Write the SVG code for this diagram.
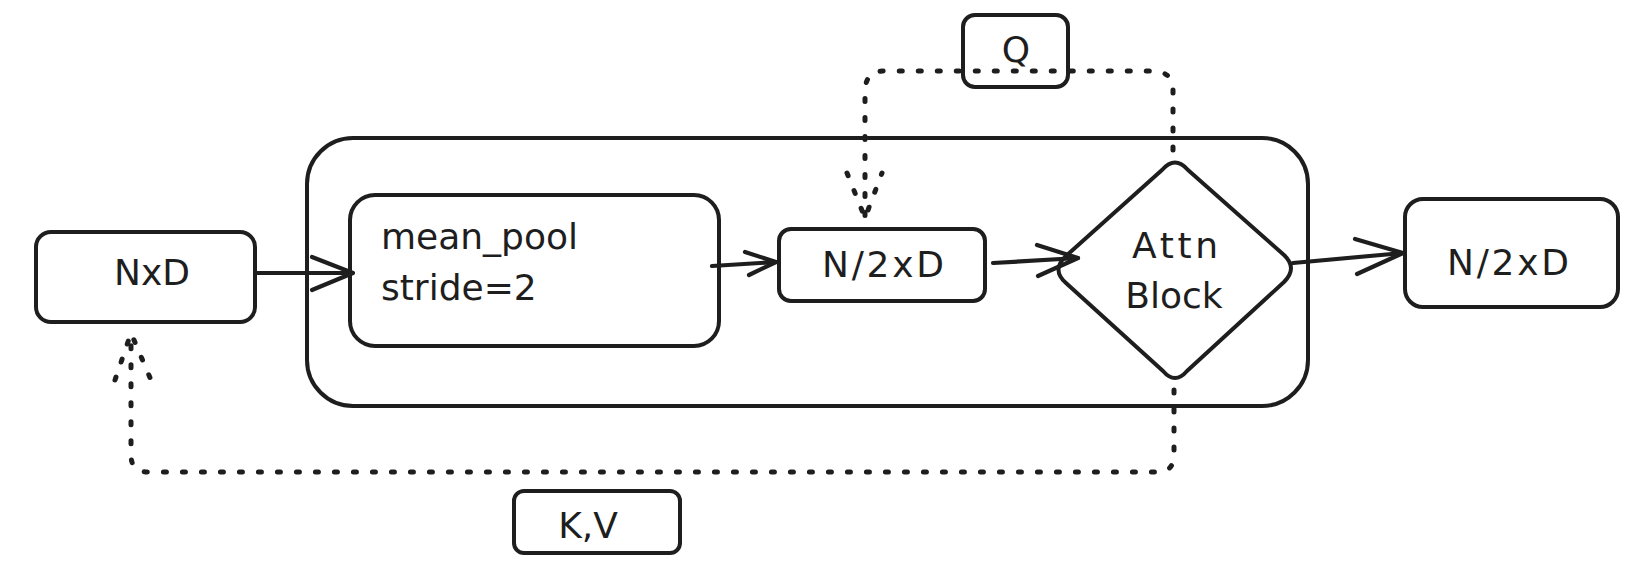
<svg xmlns="http://www.w3.org/2000/svg" width="1642" height="580" viewBox="0 0 1642 580">
  <style>
    .shape { fill: none; stroke: #1e1e1e; stroke-width: 4; stroke-linejoin: round; stroke-linecap: round; }
    .edge { fill: none; stroke: #1e1e1e; stroke-width: 4.2; stroke-linecap: round; stroke-linejoin: round; }
    .dots { fill: none; stroke: #1e1e1e; stroke-width: 5; stroke-linecap: round; stroke-dasharray: 3 16; }
    .label { font-family: "DejaVu Sans", "Liberation Sans", sans-serif; font-size: 36px; fill: #1e1e1e; text-anchor: middle; }
    .label-left { font-family: "DejaVu Sans", "Liberation Sans", sans-serif; font-size: 36px; fill: #1e1e1e; }
  </style>
  <rect width="1642" height="580" fill="#ffffff"/>

  <!-- pooling stage container -->
  <g id="stage">
    <rect class="shape" x="307" y="138" width="1001" height="268" rx="46"/>
  </g>

  <g id="input">
    <rect class="shape" x="36" y="232" width="219" height="90" rx="15"/>
    <text class="label" x="152" y="285">NxD</text>
  </g>

  <g id="pool">
    <rect class="shape" x="350" y="195" width="369" height="151" rx="25"/>
    <text class="label-left" x="381" y="249">mean_pool</text>
    <text class="label-left" x="381" y="300">stride=2</text>
  </g>

  <g id="pooled">
    <rect class="shape" x="779" y="229" width="206" height="72" rx="12"/>
    <text class="label" x="883" y="277" textLength="122">N/2xD</text>
  </g>

  <g id="attn">
    <!-- diamond with softened vertices -->
    <path class="shape" d="M1162,170 Q1175,155 1188,170 L1284,255 Q1298,268 1284,282 L1187,371 Q1175,385 1163,371 L1066,283 Q1051,270 1066,256 Z"/>
    <text class="label" x="1175" y="258" textLength="86">Attn</text>
    <text class="label" x="1174" y="308">Block</text>
  </g>

  <g id="output">
    <rect class="shape" x="1405" y="199" width="213" height="108" rx="18"/>
    <text class="label" x="1508" y="275" textLength="122">N/2xD</text>
  </g>

  <g id="q-label">
    <rect class="shape" x="963" y="15" width="105" height="72" rx="12"/>
    <text class="label" x="1016" y="62">Q</text>
  </g>

  <g id="kv-label">
    <rect class="shape" x="514" y="491" width="166" height="62" rx="10"/>
    <text class="label" x="588" y="538">K,V</text>
  </g>

  <g id="connectors">
    <!-- solid data flow -->
    <path class="edge" d="M255,273 L352,273" stroke-width="5"/>
    <path class="edge" d="M312,257 L353,273 L312,290"/>
    <path class="edge" d="M712,266 L776,262"/>
    <path class="edge" d="M745,252 L776,262 L749,275"/>
    <path class="edge" d="M993,263 L1078,258"/>
    <path class="edge" d="M1037,245 L1078,258 L1038,276"/>
    <path class="edge" d="M1293,263 L1403,253"/>
    <path class="edge" d="M1355,239 L1403,253 L1357,274"/>
    <!-- query feedback -->
    <path class="dots" d="M1173,150 L1173,90 Q1173,71 1152,71 L884,71 Q865,71 865,92 L865,218"/>
    <path class="dots" d="M847,173 L865,218 L882,173"/>
    <!-- key/value feedback -->
    <path class="dots" d="M1174,390 L1174,455 Q1174,472 1157,472 L148,472 Q131,472 131,455 L131,333"/>
    <path class="dots" d="M115,380 L131,333 L151,380"/>
  </g>
</svg>
